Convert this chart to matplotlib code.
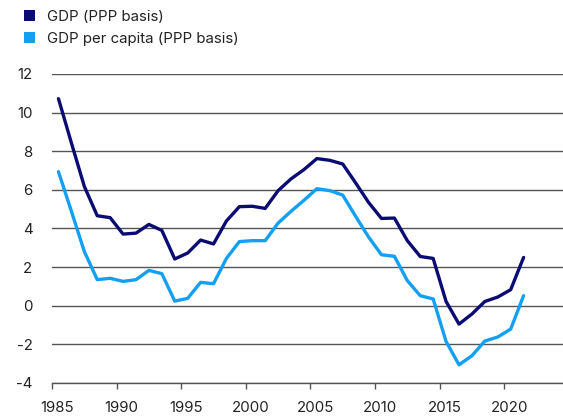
import matplotlib
matplotlib.use("Agg")
import matplotlib.pyplot as plt
import matplotlib.transforms as mtransforms
from matplotlib.patches import Patch
import numpy as np

years = list(range(1985, 2022))
gdp = [10.72, 8.43, 6.18, 4.66, 4.56, 3.71, 3.76, 4.21, 3.90, 2.42,
       2.73, 3.40, 3.20, 4.39, 5.13, 5.15, 5.04, 5.96, 6.57, 7.05,
       7.62, 7.53, 7.34, 6.36, 5.35, 4.52, 4.54, 3.37, 2.55, 2.45,
       0.22, -0.95, -0.43, 0.22, 0.45, 0.83, 2.50]
gdp_pc = [6.94, 4.89, 2.81, 1.35, 1.42, 1.26, 1.35, 1.83, 1.66, 0.24,
          0.38, 1.21, 1.14, 2.45, 3.32, 3.37, 3.37, 4.28, 4.89, 5.46,
          6.06, 5.96, 5.73, 4.63, 3.56, 2.64, 2.56, 1.30, 0.52, 0.35,
          -1.85, -3.06, -2.59, -1.83, -1.62, -1.21, 0.52]
series_names = ["GDP (PPP basis)", "GDP per capita (PPP basis)"]
colors = ["#0b0b74", "#139ff2"]
yticks = [-4, -2, 0, 2, 4, 6, 8, 10, 12]
xticks = [1985, 1990, 1995, 2000, 2005, 2010, 2015, 2020]

plt.rcParams['font.family'] = ['Inter', 'DejaVu Sans']
fig = plt.figure(figsize=(5.63, 4.19), dpi=100)
ax = fig.add_axes([0.0924, 0.086, 0.9076, 0.7374])

x = np.array(years) + 0.5
ax.plot(x, gdp, color=colors[0], lw=2.4, solid_joinstyle='round', solid_capstyle='round', zorder=3)
ax.plot(x, gdp_pc, color=colors[1], lw=2.4, solid_joinstyle='round', solid_capstyle='round', zorder=3)

ax.set_xlim(1985, 2024.55)
ax.set_ylim(-4, 12)
ax.set_yticks(yticks)
ax.set_xticks(xticks)
ax.set_yticklabels([str(t) for t in yticks])
ax.set_xticklabels([str(t) for t in xticks])
for t in yticks:
    ax.axhline(t, color='#555555', lw=1.0, zorder=1)
for s in ['top', 'right', 'left']:
    ax.spines[s].set_visible(False)
ax.spines['bottom'].set_color('#555555')
ax.spines['bottom'].set_linewidth(1.0)
ax.tick_params(axis='y', length=0, pad=14, labelsize=10.8, labelcolor='#222222')
ax.tick_params(axis='x', length=4, width=1, color='#555555', pad=9, labelsize=10.8, labelcolor='#222222', direction='out')

offset = mtransforms.ScaledTranslation(5 / 100, 0, fig.dpi_scale_trans)
for lab in ax.get_xticklabels():
    lab.set_transform(lab.get_transform() + offset)

handles = [Patch(facecolor=c, edgecolor='none') for c in colors]
fig.legend(handles, series_names, loc='upper left', bbox_to_anchor=(0.032, 0.99),
           frameon=False, fontsize=10.8, handlelength=0.75, handleheight=0.75,
           handletextpad=0.8, labelspacing=0.5, borderaxespad=0, labelcolor='#222222')

fig.savefig("out.png", dpi=100)
